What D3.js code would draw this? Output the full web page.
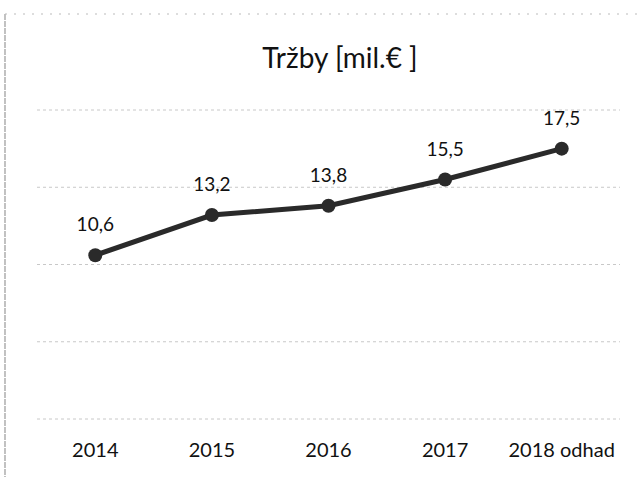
<html>
<script src='https://d3js.org/d3.v7.min.js'></script>
<style>
body {margin:0; background:white;}
text {font-family: Lato, 'Open Sans', sans-serif; fill:#111;}
</style>
<body>
<svg width=644 height=477></svg>
<script>
var years = ['2014','2015','2016','2017','2018 odhad'];
var sales = [10.6, 13.2, 13.8, 15.5, 17.5];
var yTicks = [0, 5, 10, 15, 20];
var title = 'Tržby [mil.€ ]';

var svg = d3.select('svg');
var fmt = d3.formatLocale({decimal: ',', thousands: ' ', grouping: [3], currency: ['', '€']}).format('.1f');

var x = d3.scaleBand().domain(years).range([37, 620]);
var y = d3.scaleLinear().domain([0, 20]).range([419, 110]);

// chart border (scanned, faint)
svg.append('line').attr('x1', 5).attr('x2', 5).attr('y1', 14).attr('y2', 477)
  .attr('stroke', '#999').attr('stroke-width', 1.2).attr('stroke-dasharray', '6,1');
svg.append('line').attr('x1', 5).attr('x2', 644).attr('y1', 14).attr('y2', 14)
  .attr('stroke', '#bbb').attr('stroke-width', 1).attr('stroke-dasharray', '2,7');

svg.append('text').attr('x', 340).attr('y', 68).attr('text-anchor', 'middle')
  .style('font-size', '28px').text(title);

// gridlines
svg.append('g').selectAll('line').data(yTicks).enter().append('line')
  .attr('x1', 37).attr('x2', 620)
  .attr('y1', function(d) {return y(d);}).attr('y2', function(d) {return y(d);})
  .attr('stroke', '#c8c8c8').attr('stroke-width', 1).attr('stroke-dasharray', '3,3');

// x axis labels
var xAxis = svg.append('g').attr('transform', 'translate(0,435)')
  .call(d3.axisBottom(x).tickSize(0).tickPadding(8));
xAxis.select('.domain').remove();
xAxis.selectAll('text').style('font-size', '20px').style('font-family', 'Lato, sans-serif').attr('fill', '#111');

var cx = function(d, i) {return x(years[i]) + x.bandwidth() / 2;};

svg.append('path').datum(sales)
  .attr('fill', 'none').attr('stroke', '#2a2a2a').attr('stroke-width', 5)
  .attr('d', d3.line().x(cx).y(function(d) {return y(d);}));

svg.append('g').selectAll('circle').data(sales).enter().append('circle')
  .attr('cx', cx).attr('cy', function(d) {return y(d);}).attr('r', 7)
  .attr('fill', '#2a2a2a');

svg.append('g').selectAll('text').data(sales).enter().append('text')
  .attr('x', cx).attr('y', function(d) {return y(d) - 24;})
  .attr('text-anchor', 'middle').style('font-size', '19px')
  .text(function(d) {return fmt(d);});
</script>
</body>
</html>
